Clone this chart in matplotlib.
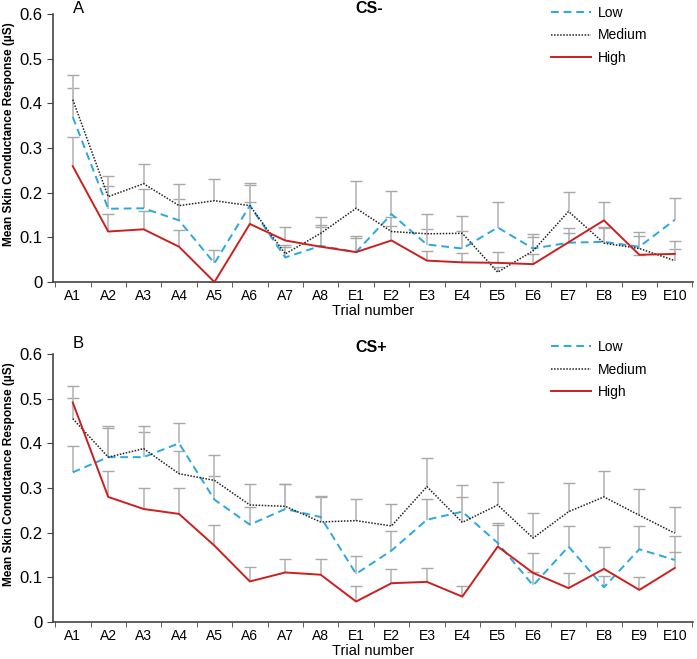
import numpy as np
import matplotlib.pyplot as plt

plt.rcParams['font.family'] = ['Liberation Sans', 'DejaVu Sans']

trials = ["A1", "A2", "A3", "A4", "A5", "A6", "A7", "A8",
          "E1", "E2", "E3", "E4", "E5", "E6", "E7", "E8", "E9", "E10"]

# CS- panel (means and upper SEM)
csm_low = [0.369, 0.164, 0.165, 0.138, 0.042, 0.171, 0.055, 0.081, 0.067,
           0.152, 0.084, 0.075, 0.122, 0.075, 0.088, 0.090, 0.079, 0.139]
csm_low_err = [0.064, 0.050, 0.044, 0.047, 0.029, 0.045, 0.028, 0.043, 0.037,
               0.051, 0.034, 0.039, 0.056, 0.032, 0.034, 0.034, 0.034, 0.049]
csm_med = [0.408, 0.191, 0.220, 0.171, 0.182, 0.171, 0.063, 0.109, 0.165,
           0.113, 0.108, 0.109, 0.022, 0.070, 0.158, 0.087, 0.075, 0.048]
csm_med_err = [0.055, 0.047, 0.045, 0.049, 0.048, 0.050, 0.015, 0.037, 0.060,
               0.033, 0.044, 0.039, 0.012, 0.030, 0.043, 0.035, 0.029, 0.027]
csm_high = [0.259, 0.113, 0.118, 0.079, 0.000, 0.130, 0.093, 0.079, 0.067,
            0.093, 0.048, 0.044, 0.043, 0.040, 0.089, 0.138, 0.061, 0.063]
csm_high_err = [0.066, 0.039, 0.040, 0.038, 0.000, 0.049, 0.031, 0.048, 0.031,
                0.033, 0.022, 0.020, 0.025, 0.022, 0.020, 0.040, 0.000, 0.029]

# CS+ panel
csp_low = [0.335, 0.369, 0.369, 0.400, 0.274, 0.218, 0.253, 0.235, 0.108,
           0.160, 0.229, 0.247, 0.177, 0.082, 0.169, 0.078, 0.163, 0.139]
csp_low_err = [0.060, 0.069, 0.056, 0.045, 0.053, 0.040, 0.055, 0.045, 0.039,
               0.043, 0.046, 0.060, 0.044, 0.030, 0.047, 0.026, 0.051, 0.053]
csp_med = [0.455, 0.369, 0.388, 0.332, 0.317, 0.262, 0.259, 0.224, 0.227,
           0.215, 0.303, 0.223, 0.262, 0.188, 0.247, 0.280, 0.239, 0.199]
csp_med_err = [0.046, 0.066, 0.050, 0.050, 0.056, 0.047, 0.051, 0.057, 0.049,
               0.050, 0.064, 0.056, 0.052, 0.057, 0.064, 0.057, 0.058, 0.058]
csp_high = [0.491, 0.280, 0.253, 0.242, 0.171, 0.091, 0.111, 0.106, 0.046,
            0.087, 0.090, 0.057, 0.169, 0.110, 0.076, 0.119, 0.072, 0.121]
csp_high_err = [0.038, 0.057, 0.047, 0.058, 0.047, 0.033, 0.031, 0.035, 0.034,
                0.032, 0.031, 0.023, 0.049, 0.044, 0.034, 0.050, 0.028, 0.036]

BLUE, RED, ERR = "#2aa8e0", "#cc1f1f", "#bdbdbd"
x = np.arange(1, len(trials) + 1)


def panel(ax, series, letter, title, leg_y, letter_y, title_y):
    # error bars first (upper only), then the lines on top
    for y, e in series:
        y, e = np.array(y), np.array(e)
        ax.vlines(x, y, y + e, color=ERR, lw=1.3, zorder=1)
        ax.plot(x, y + e, "_", color="#a8a8a8", ms=8, mew=1.0, zorder=1)
    styles = [dict(color=BLUE, ls=(0, (4, 2.5)), lw=1.4, label="Low"),
              dict(color="#222222", ls=(0, (1, 1)), lw=1.1, label="Medium"),
              dict(color=RED, ls="-", lw=1.4, label="High")]
    for (y, e), st in zip(series, styles):
        ax.plot(x, y, zorder=3, **st)

    ax.set_xlim(0.44, 18.51)
    ax.set_ylim(0, 0.6)
    ax.set_yticks(np.arange(0, 0.61, 0.1))
    ax.set_yticklabels(["0"] + [f"{v:.1f}" for v in np.arange(0.1, 0.61, 0.1)])
    ax.set_xticks(x)
    ax.set_xticklabels(trials, fontsize=10)
    ax.set_xticks(np.arange(0.5, 18.6, 1), minor=True)
    ax.tick_params(axis="x", which="major", length=0, pad=5)
    ax.tick_params(axis="x", which="minor", length=3.5, color="#444444")
    ax.tick_params(axis="y", labelsize=12, length=4, color="#444444")
    for s in ["top", "right"]:
        ax.spines[s].set_visible(False)
    for s in ["left", "bottom"]:
        ax.spines[s].set_color("#444444")
        ax.spines[s].set_linewidth(1.2)
    ax.set_xlabel("Trial number", fontsize=10.5, labelpad=1)
    ax.set_ylabel("Mean Skin Conductance Response (\u00b5S)", fontsize=8.6,
                  fontweight="bold")
    ax.yaxis.set_label_coords(-0.059, 0.55)
    ax.text(0.031, letter_y, letter, transform=ax.transAxes, fontsize=12,
            va="center", ha="left")
    ax.text(0.472, title_y, title, transform=ax.transAxes, fontsize=11.5,
            fontweight="bold", va="center", ha="left")
    ax.legend(loc="upper left", bbox_to_anchor=(0.778, leg_y), frameon=False,
              fontsize=10, handlelength=2.9, handletextpad=0.5,
              labelspacing=0.62, borderpad=0, borderaxespad=0)


fig = plt.figure(figsize=(6.97, 6.59), dpi=100)
ax1 = fig.add_axes([0.076, 0.572, 0.918, 0.407])
ax2 = fig.add_axes([0.076, 0.056, 0.918, 0.407])

panel(ax1, [(csm_low, csm_low_err), (csm_med, csm_med_err),
            (csm_high, csm_high_err)], "A", "CS-", 1.03, 1.02, 1.02)
panel(ax2, [(csp_low, csp_low_err), (csp_med, csp_med_err),
            (csp_high, csp_high_err)], "B", "CS+", 1.052, 1.04, 1.025)

fig.savefig("out.png", dpi=100)
